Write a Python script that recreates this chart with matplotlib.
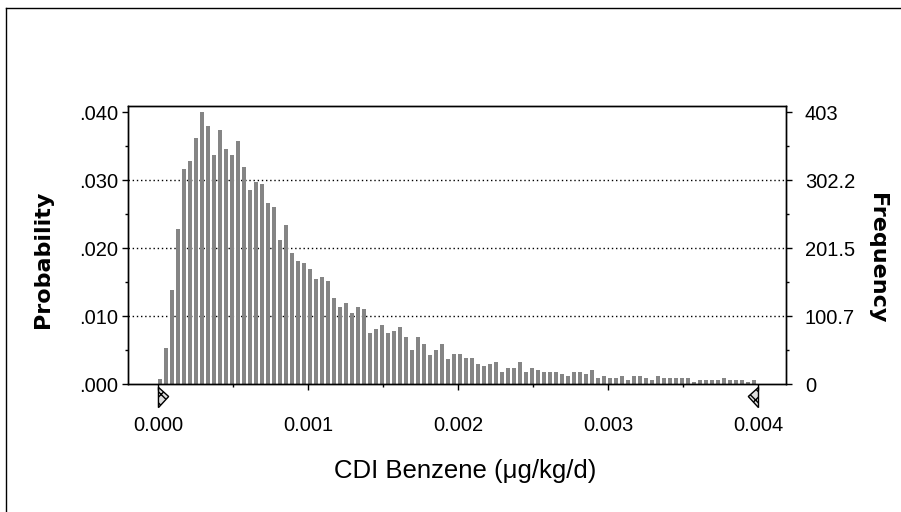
import numpy as np
import matplotlib
matplotlib.use('Agg')
import matplotlib.pyplot as plt
from matplotlib.patches import Polygon
from matplotlib.transforms import blended_transform_factory

# frequency per bin (10,000 trials), bins of 0.00004 starting at 0
counts = [7, 54, 140, 229, 318, 330, 365, 403, 383, 339,
          377, 348, 339, 360, 321, 288, 300, 297, 268, 262,
          214, 235, 194, 182, 179, 170, 155, 158, 152, 128,
          114, 120, 105, 114, 111, 75, 81, 87, 75, 78,
          84, 69, 51, 69, 60, 43, 51, 60, 37, 45,
          44, 38, 38, 30, 27, 30, 33, 18, 24, 24,
          33, 18, 24, 21, 18, 18, 18, 15, 12, 18,
          18, 15, 21, 9, 12, 9, 9, 12, 6, 12,
          12, 9, 6, 12, 9, 9, 9, 9, 9, 3,
          6, 6, 6, 6, 9, 6, 6, 6, 3, 6]
trials = 10000
bin_w = 0.00004
range_lo, range_hi = 0.0, 0.004

x_ticks = [0.000, 0.001, 0.002, 0.003, 0.004]
x_labels = ['0.000', '0.001', '0.002', '0.003', '0.004']
prob_labels = ['.000', '.010', '.020', '.030', '.040']
freq_labels = ['0', '100.7', '201.5', '302.2', '403']

plt.rcParams['font.family'] = ['Liberation Sans', 'DejaVu Sans']

fig = plt.figure(figsize=(9.01, 5.12), dpi=100)
ax = fig.add_axes([128/901, 1-384/512, (785.5-128)/901, (384-106)/512])

centers = np.arange(len(counts)) * bin_w + bin_w * 0.25
ax.bar(centers, counts, width=bin_w * 0.68, color='#858585', linewidth=0)

cmax = max(counts)
yt = [cmax * k / 4 for k in range(5)]
for y in yt[1:4]:
    ax.axhline(y, color='black', linestyle=(0, (1, 2)), linewidth=1, zorder=0)

ax.set_xlim(-0.000203, 0.00418)
ax.set_ylim(0, cmax * 412 / 403)
ax.set_xticks(x_ticks)
ax.set_xticklabels(x_labels, fontsize=14.5)
ax.set_xticks(np.arange(0.0005, 0.004, 0.001), minor=True)
ax.set_yticks(yt)
ax.set_yticklabels(prob_labels, fontsize=14.5)
ax.set_yticks([(yt[i] + yt[i+1]) / 2 for i in range(4)], minor=True)
ax.tick_params(axis='both', which='major', length=4, width=1, pad=3)
ax.tick_params(axis='both', which='minor', length=2.5, width=1)
ax.tick_params(axis='x', pad=19)

ax2 = ax.twinx()
ax2.set_ylim(ax.get_ylim())
ax2.set_yticks(yt)
ax2.set_yticklabels(freq_labels, fontsize=14.5)
ax2.set_yticks([(yt[i] + yt[i+1]) / 2 for i in range(4)], minor=True)
ax2.tick_params(axis='y', which='major', length=4, width=1, pad=10)
ax2.tick_params(axis='y', which='minor', length=2.5, width=1)

for a in (ax, ax2):
    for s in a.spines.values():
        s.set_linewidth(1)
        s.set_color('black')

fig.text(43/901, 1-259/512, 'Probability', rotation=90, ha='center', va='center',
         fontsize=16, fontweight='bold', family='DejaVu Sans')
fig.text(877/901, 1-258/512, 'Frequency', rotation=270, ha='center', va='center',
         fontsize=16, fontweight='bold', family='DejaVu Sans')
ax.set_xlabel('CDI Benzene (\u03bcg/kg/d)', fontsize=18.5)
ax.xaxis.set_label_coords(0.5125, -0.268)

# certainty range grabbers
tr = blended_transform_factory(ax.transData, ax.transAxes)
dx = 0.000068
for x0, direction in ((range_lo, 1), (range_hi, -1)):
    tri = Polygon([(x0, -0.012), (x0, -0.085), (x0 + direction * dx, -0.045)],
                  closed=True, transform=tr, clip_on=False,
                  facecolor='#dddddd', edgecolor='black', hatch='xxx', linewidth=1)
    ax.add_patch(tri)

# outer frame
fig.add_artist(plt.Line2D([5.5/901, 5.5/901], [0, 1-8/512], transform=fig.transFigure,
                          color='black', linewidth=1))
fig.add_artist(plt.Line2D([5.5/901, 1], [1-8/512, 1-8/512], transform=fig.transFigure,
                          color='black', linewidth=1))

fig.savefig('out.png', dpi=100)
